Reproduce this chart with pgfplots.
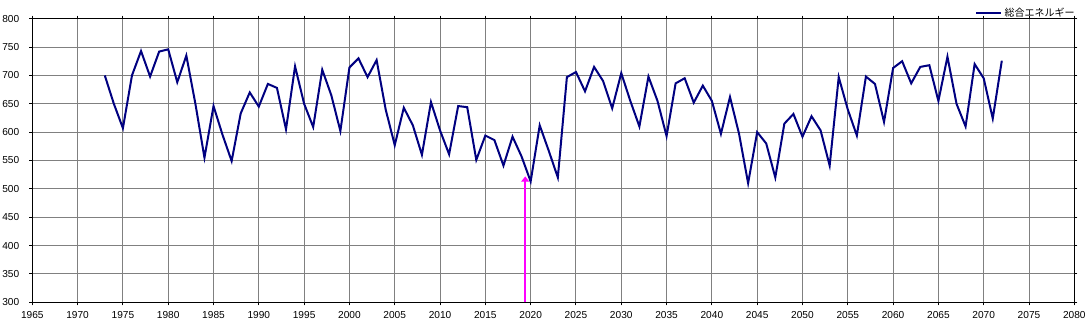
\documentclass[border=0pt]{standalone}
\usepackage{fontspec}
\setmainfont{Liberation Sans}
\newfontfamily\jp{Noto Sans CJK JP}
\usepackage{pgfplots}
\pgfplotsset{compat=1.18}
\usetikzlibrary{arrows.meta}
\definecolor{navy}{RGB}{0,0,128}
\definecolor{mag}{RGB}{255,0,255}
\pgfplotstableread{
year val
1973 700
1974 650
1975 607
1976 700
1977 743
1978 698
1979 742
1980 746
1981 688
1982 735
1983 650
1984 555
1985 646
1986 595
1987 549
1988 633
1989 670
1990 645
1991 685
1992 678
1993 605
1994 716
1995 650
1996 609
1997 710
1998 665
1999 602
2000 714
2001 730
2002 697
2003 727
2004 640
2005 577
2006 643
2007 612
2008 560
2009 653
2010 603
2011 561
2012 646
2013 644
2014 551
2015 594
2016 586
2017 541
2018 592
2019 557
2020 513
2021 612
2022 567
2023 520
2024 697
2025 706
2026 672
2027 715
2028 690
2029 642
2030 704
2031 655
2032 610
2033 698
2034 655
2035 593
2036 686
2037 695
2038 652
2039 682
2040 655
2041 597
2042 662
2043 597
2044 510
2045 600
2046 580
2047 520
2048 615
2049 632
2050 592
2051 628
2052 603
2053 541
2054 697
2055 640
2056 594
2057 698
2058 685
2059 618
2060 713
2061 725
2062 686
2063 715
2064 718
2065 655
2066 733
2067 650
2068 610
2069 720
2070 695
2071 624
2072 726
}\energy
\begin{document}
\begin{tikzpicture}[x=0.75pt,y=0.75pt]
\begin{axis}[
  scale only axis,
  width=781.5pt, height=212.7pt,
  xmin=1965, xmax=2080, ymin=300, ymax=800,
  xtick={1965,1970,...,2080},
  ytick={300,350,...,800},
  grid=major,
  major grid style={color=gray, line width=0.75pt},
  axis line style={black, line width=0.75pt},
  tick align=outside,
  major tick length=2.3pt,
  tick style={black, line width=0.75pt},
  x tick label style={font=\fontsize{7.6}{9}\selectfont, /pgf/number format/1000 sep={}, yshift=-1pt},
  y tick label style={font=\fontsize{7.6}{9}\selectfont, xshift=-4pt},
  /pgf/number format/assume math mode=true,
  legend style={at={(axis description cs:1.003,1.021)}, anchor=east, draw=none, fill=none, inner sep=0pt, font=\jp\fontsize{7.5}{8}\selectfont},
  legend cell align=left,
  legend image code/.code={\draw[#1] (0pt,0pt) -- (18.5pt,0pt);},
]
\addplot[mag, line width=1.5pt, -{Triangle[length=4pt, width=6pt]}, forget plot] coordinates {(2019.4,300) (2019.4,522)};
\addplot[navy, line width=1.5pt] table[x=year, y=val] {\energy};
\addlegendentry{総合エネルギー}
\end{axis}
\pgfresetboundingbox
\path[use as bounding box] (-32.3,-26.7) rectangle (1059.7,302.3);
\end{tikzpicture}
\end{document}
